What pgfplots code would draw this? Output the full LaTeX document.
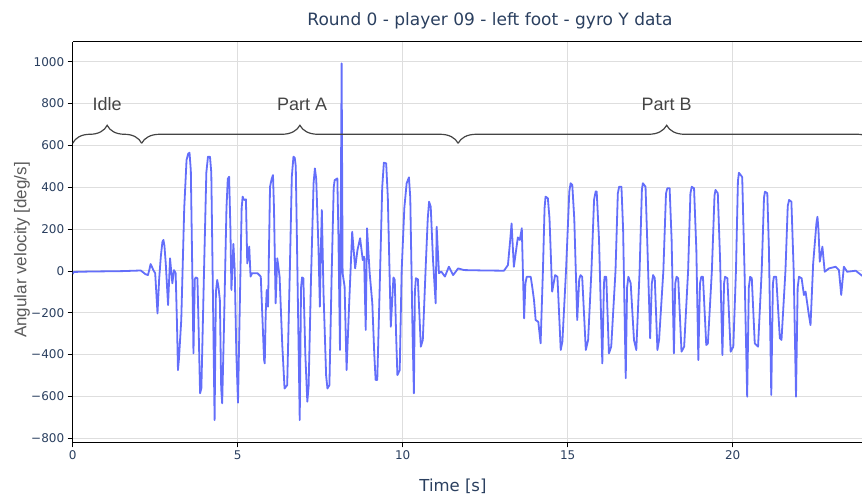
\documentclass[border=0pt]{standalone}
\usepackage{fontspec}
\usepackage{pgfplots}
\pgfplotsset{compat=1.18}
\usetikzlibrary{decorations.pathreplacing}
\newfontfamily\dejavu{DejaVu Sans}
\newfontfamily\arial{Liberation Sans}
\definecolor{tickc}{RGB}{42,63,95}
\definecolor{gridc}{RGB}{222,222,222}
\definecolor{linec}{RGB}{99,110,250}
\definecolor{annot}{RGB}{68,68,68}
\definecolor{ylabc}{RGB}{90,90,90}
\begin{document}
\begin{tikzpicture}
\begin{axis}[
  name=ax,
  scale only axis,
  width=789.3pt, height=400.3pt,
  xmin=0, xmax=23.92, ymin=-819, ymax=1094,
  axis x line*=box, axis y line*=left,
  axis line style={-, black, line width=1pt},
  xtick={0,5,10,15,20},
  ytick={-800,-600,-400,-200,0,200,400,600,800,1000},
  yticklabels={−800,−600,−400,−200,0,200,400,600,800,1000},
  xtick pos=left, ytick pos=left,
  tick align=outside,
  major tick length=5pt,
  tick style={black, line width=0.8pt},
  grid=major,
  major grid style={gridc, line width=1pt},
  /pgf/number format/assume math mode=true,
  ticklabel style={font=\dejavu\fontsize{12}{14}\selectfont, text=tickc},
  title={Round 0 - player 09 - left foot - gyro Y data},
  title style={at={(rel axis cs:0.5287,1)}, anchor=base, yshift=10pt, font=\dejavu\fontsize{17}{20}\selectfont, text=tickc, inner sep=0pt},
  xlabel={Time [s]},
  xlabel style={at={(rel axis cs:0.4818,0)}, anchor=base, yshift=-49.2pt, font=\dejavu\fontsize{16.5}{19}\selectfont, text=tickc, inner sep=0pt},
  ylabel={Angular velocity [deg/s]},
  ylabel style={at={(axis description cs:-0.0642,0.4804)}, anchor=center, font=\arial\fontsize{17}{20}\selectfont, text=ylabc, inner sep=0pt},
]
\addplot[linec, line width=1.8pt, line join=round, mark=none] coordinates {
(0.00,-15)(0.03,-5)(0.5,-3)(1.0,-2)(1.5,-1)(2.06,2)(2.12,-5)(2.20,-15)(2.28,-20)(2.33,10)(2.36,33)(2.40,20)(2.44,5)(2.50,-11)(2.57,-203)(2.62,-40)(2.67,68)(2.72,140)(2.75,148)(2.78,120)(2.82,36)(2.89,-163)(2.95,60)(3.02,-59)(3.07,4)(3.12,-11)(3.16,-250)(3.19,-474)(3.22,-420)(3.29,-235)(3.38,300)(3.45,530)(3.50,560)(3.54,565)(3.58,480)(3.66,-394)(3.70,-40)(3.73,-31)(3.78,-35)(3.82,-300)(3.86,-585)(3.90,-560)(3.98,0)(4.05,470)(4.10,546)(4.16,546)(4.20,470)(4.30,-713)(4.34,-100)(4.38,-43)(4.42,-80)(4.46,-139)(4.50,-560)(4.53,-633)(4.58,-300)(4.66,300)(4.70,440)(4.74,450)(4.78,200)(4.81,-91)(4.87,129)(4.91,4)(4.96,-400)(5.01,-630)(5.06,-200)(5.12,300)(5.15,355)(5.19,339)(5.25,342)(5.29,36)(5.35,116)(5.39,-27)(5.44,-11)(5.60,-11)(5.70,-27)(5.80,-426)(5.82,-442)(5.85,-200)(5.88,-91)(5.92,-171)(5.98,402)(6.03,440)(6.07,458)(6.10,300)(6.15,-155)(6.20,60)(6.27,-27)(6.35,-350)(6.42,-562)(6.50,-546)(6.58,0)(6.64,450)(6.69,546)(6.73,540)(6.76,500)(6.82,-100)(6.88,-713)(6.92,-80)(6.95,-31)(6.99,-35)(7.05,-400)(7.11,-625)(7.15,-550)(7.22,-50)(7.30,420)(7.34,490)(7.38,440)(7.45,100)(7.49,-171)(7.52,100)(7.55,291)(7.60,-100)(7.68,-500)(7.72,-562)(7.78,-546)(7.85,0)(7.91,400)(7.94,434)(8.02,442)(8.05,200)(8.10,-378)(8.15,992)(8.18,-11)(8.24,-75)(8.30,-474)(8.38,-150)(8.47,187)(8.56,12)(8.63,100)(8.71,156)(8.79,52)(8.83,68)(8.88,-282)(8.92,204)(9.00,-11)(9.08,-155)(9.14,-400)(9.18,-521)(9.23,-521)(9.30,-100)(9.38,400)(9.43,517)(9.50,514)(9.55,350)(9.64,-267)(9.72,-31)(9.76,-43)(9.80,-300)(9.84,-498)(9.91,-474)(9.97,4)(10.05,300)(10.12,419)(10.19,447)(10.23,350)(10.30,-300)(10.34,-585)(10.37,-100)(10.40,-35)(10.46,-40)(10.55,-362)(10.61,-330)(10.70,28)(10.76,250)(10.80,331)(10.85,307)(10.92,50)(11.00,-155)(11.03,211)(11.10,-11)(11.17,-3)(11.28,-27)(11.40,20)(11.53,-20)(11.68,12)(11.86,4)(12.5,2)(13.07,1)(13.19,28)(13.26,150)(13.30,227)(13.37,20)(13.49,160)(13.55,148)(13.61,204)(13.68,-227)(13.72,-60)(13.76,-28)(13.88,-28)(13.93,-80)(13.98,-139)(14.03,-235)(14.11,-243)(14.18,-346)(14.25,0)(14.30,300)(14.33,355)(14.40,347)(14.45,250)(14.53,-99)(14.62,-20)(14.69,-28)(14.79,-378)(14.84,-338)(14.95,0)(15.05,380)(15.09,419)(15.14,411)(15.20,250)(15.29,-235)(15.35,-40)(15.39,-20)(15.44,-28)(15.55,-378)(15.62,-330)(15.72,0)(15.80,340)(15.85,380)(15.88,379)(15.95,150)(16.05,-442)(16.10,-60)(16.12,-28)(16.17,-28)(16.25,-394)(16.32,-362)(16.45,0)(16.52,370)(16.56,402)(16.63,402)(16.68,200)(16.76,-513)(16.80,-80)(16.84,-28)(16.91,-59)(17.01,-330)(17.08,-378)(17.18,0)(17.25,390)(17.28,419)(17.36,402)(17.42,100)(17.50,-322)(17.55,-60)(17.59,-20)(17.64,-35)(17.72,-378)(17.77,-330)(17.90,0)(17.98,370)(18.02,395)(18.09,395)(18.15,150)(18.22,-394)(18.26,-60)(18.30,-28)(18.35,-35)(18.45,-386)(18.53,-362)(18.65,0)(18.72,370)(18.76,402)(18.83,395)(18.90,100)(18.96,-426)(19.01,-60)(19.05,-28)(19.10,-28)(19.20,-354)(19.25,-346)(19.37,0)(19.45,360)(19.48,387)(19.55,371)(19.62,50)(19.69,-402)(19.74,-60)(19.77,-28)(19.84,-35)(19.94,-386)(20.02,-362)(20.10,0)(20.16,430)(20.19,469)(20.26,455)(20.29,447)(20.36,0)(20.44,-601)(20.49,-80)(20.53,-28)(20.58,-35)(20.67,-346)(20.77,-362)(20.88,0)(20.95,350)(20.98,379)(21.05,371)(21.10,100)(21.17,-593)(21.22,-60)(21.25,-28)(21.32,-28)(21.43,-322)(21.48,-330)(21.60,0)(21.67,310)(21.71,339)(21.78,331)(21.85,0)(21.92,-601)(21.97,-80)(22.01,-28)(22.09,-35)(22.16,-115)(22.21,-99)(22.30,-200)(22.36,-259)(22.44,36)(22.54,230)(22.57,259)(22.60,200)(22.64,44)(22.72,116)(22.79,-4)(22.92,12)(23.12,20)(23.22,4)(23.29,-115)(23.37,20)(23.47,-4)(23.73,1)(23.93,-24)
};
\draw[annot, line width=1.2pt, decorate, decoration={brace, amplitude=18pt}] (axis cs:0,610) -- (axis cs:2.09,610);
\draw[annot, line width=1.2pt, decorate, decoration={brace, amplitude=18pt}] (axis cs:2.09,610) -- (axis cs:11.68,610);
\draw[annot, line width=1.2pt, decorate, decoration={brace, amplitude=18pt}] (axis cs:11.68,610) -- (axis cs:24.32,610);
\node[font=\arial\fontsize{18}{21}\selectfont, text=annot, inner sep=0pt] at (axis cs:1.04,798) {Idle};
\node[font=\arial\fontsize{18}{21}\selectfont, text=annot, inner sep=0pt] at (axis cs:6.95,798) {Part A};
\node[font=\arial\fontsize{18}{21}\selectfont, text=annot, inner sep=0pt] at (axis cs:18.0,798) {Part B};
\end{axis}
\pgfresetboundingbox
\path[use as bounding box] ([shift={(-72.7pt,-51.7pt)}]ax.south west) rectangle ([shift={(0pt,42pt)}]ax.north east);
\end{tikzpicture}
\end{document}
